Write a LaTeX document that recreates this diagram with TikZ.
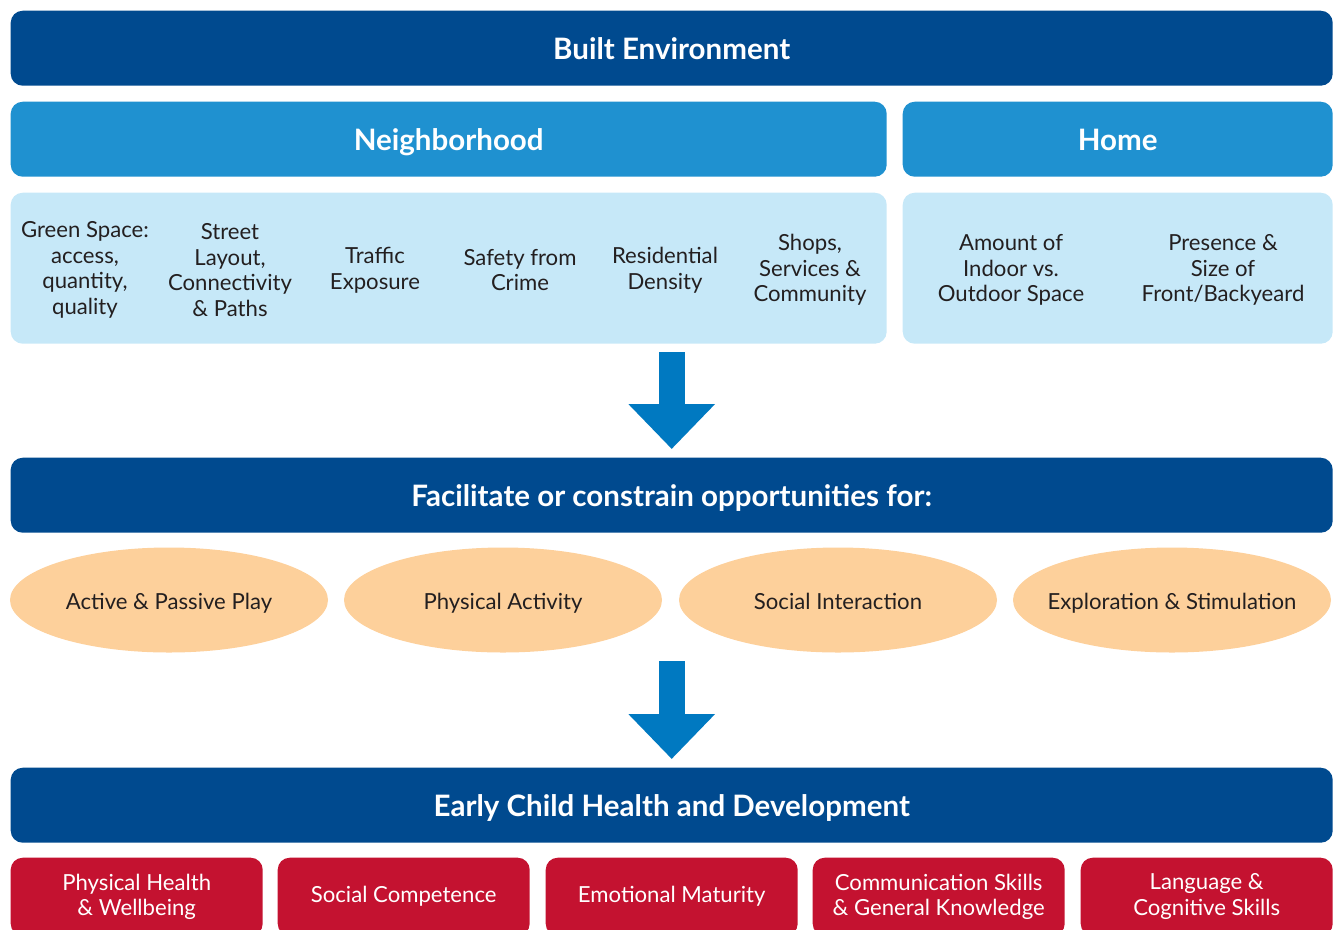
\documentclass[tikz,border=0pt]{standalone}
\usepackage{fontspec}
\setmainfont{Lato}
\usetikzlibrary{arrows.meta, calc, positioning, shapes.geometric}
\definecolor{darkblue}{HTML}{004A8F}
\definecolor{midblue}{HTML}{1F91D0}
\definecolor{paleblue}{HTML}{C6E8F8}
\definecolor{arrowblue}{HTML}{0079C1}
\definecolor{peach}{HTML}{FDD09B}
\definecolor{crimson}{HTML}{C41230}
\definecolor{inktext}{HTML}{231F20}
\tikzset{
    banner/.style={rounded corners=0.12cm, fill=darkblue, text=white, anchor=north west,
        inner sep=0pt, minimum width=13.22cm, minimum height=0.75cm,
        text height=7.0pt, text depth=0.4pt,
        font=\fontsize{8.4}{9.5}\selectfont\bfseries},
    subbanner/.style={rounded corners=0.12cm, fill=midblue, text=white, anchor=north west,
        inner sep=0pt, minimum height=0.75cm, text height=7.0pt, text depth=0.4pt,
        font=\fontsize{8.4}{9.5}\selectfont\bfseries},
    panel/.style={rounded corners=0.12cm, fill=paleblue, anchor=north west,
        inner sep=0pt, minimum height=1.51cm},
    factor/.style={align=center, text=inktext, inner sep=0pt,
        font=\fontsize{6.3}{7.3}\selectfont},
    chance/.style={ellipse, fill=peach, minimum width=3.18cm,
        minimum height=1.05cm, inner sep=0pt},
    chancetext/.style={text=inktext, inner sep=0pt, text height=6.0pt, text depth=0.4pt,
        font=\fontsize{6.3}{7.3}\selectfont},
    outcome/.style={rounded corners=0.12cm, fill=crimson, text=white, align=center,
        anchor=north west, inner sep=0pt, minimum width=2.52cm, minimum height=0.78cm,
        font=\fontsize{6.3}{7.3}\selectfont},
    bigarrow/.style={draw=arrowblue, line width=0.26cm,
        -{Triangle[width=0.84cm, length=0.45cm, fill=arrowblue]}}
}
\begin{document}
\begin{tikzpicture}
    \useasboundingbox (0,0) rectangle (13.33,-9.29);
    \clip (0,0) rectangle (13.33,-9.29);

    % top levels
    \node[banner] (built) at (0.10,-0.10) {Built Environment};
    \node[subbanner, minimum width=8.76cm] (hood) at (0.10,-1.01) {Neighborhood};
    \node[subbanner, minimum width=4.30cm] (home) at (9.02,-1.01) {Home};
    \node[panel, minimum width=8.76cm] (hoodpanel) at (0.10,-1.92) {};
    \node[panel, minimum width=4.30cm] (homepanel) at (9.02,-1.92) {};

    % neighborhood factors
    \node[factor] (green) at (0.85,-2.70) {Green Space:\\access,\\quantity,\\quality};
    \node[factor] (street) at (2.30,-2.70) {Street\\Layout,\\Connectivity\\\& Paths};
    \node[factor] (traffic) at (3.75,-2.70) {Traffic\\Exposure};
    \node[factor] (safety) at (5.20,-2.70) {Safety from\\Crime};
    \node[factor] (density) at (6.65,-2.70) {Residential\\Density};
    \node[factor] (shops) at (8.10,-2.70) {Shops,\\Services \&\\Community};

    % home factors
    \node[factor] (indoor) at (10.11,-2.70) {Amount of\\Indoor vs.\\Outdoor Space};
    \node[factor] (yard) at (12.23,-2.70) {Presence \&\\Size of\\Front/Backyeard};

    % opportunities
    \node[banner] (facil) at (0.10,-4.57) {Facilitate or constrain opportunities for:};
    \node[chance, label={[chancetext]center:Active \& Passive Play}] (play) at (1.69,-6.00) {};
    \node[chance, label={[chancetext]center:Physical Activity}] (activity) at (5.03,-6.00) {};
    \node[chance, label={[chancetext]center:Social Interaction}] (social) at (8.38,-6.00) {};
    \node[chance, label={[chancetext]center:Exploration \& Stimulation}] (explore) at (11.72,-6.00) {};

    % outcomes
    \node[banner] (early) at (0.10,-7.67) {Early Child Health and Development};
    \node[outcome] (health) at (0.10,-8.57) {Physical Health\\\& Wellbeing};
    \node[outcome] (competence) at (2.77,-8.57) {Social Competence};
    \node[outcome] (maturity) at (5.45,-8.57) {Emotional Maturity};
    \node[outcome] (communic) at (8.12,-8.57) {Communication Skills\\\& General Knowledge};
    \node[outcome] (cognitive) at (10.80,-8.57) {Language \&\\Cognitive Skills};

    \draw[bigarrow] ($(hoodpanel.south -| built.south)+(0,-0.08)$) -- ($(facil.north)+(0,0.08)$);
    \draw[bigarrow] ($(play.south -| facil.south)+(0,-0.08)$) -- ($(early.north)+(0,0.08)$);
\end{tikzpicture}
\end{document}
